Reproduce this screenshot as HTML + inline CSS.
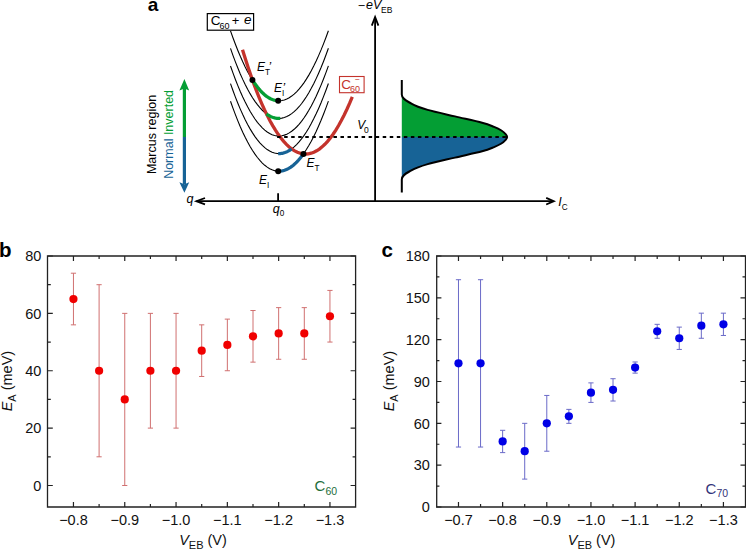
<!DOCTYPE html>
<html><head><meta charset="utf-8"><style>
html,body{margin:0;padding:0;background:#fff;}
svg{display:block;}
text{font-family:"Liberation Sans",sans-serif;}
</style></head><body>
<svg width="746" height="550" viewBox="0 0 746 550">
<rect width="746" height="550" fill="#fff"/>
<path d="M47.5,256H355.6V507H47.5Z" fill="none" stroke="#222" stroke-width="1.3"/>
<path d="M47.8,485.49h5M355.6,485.49h-5M47.8,428.11h5M355.6,428.11h-5M47.8,370.74h5M355.6,370.74h-5M47.8,313.37h5M355.6,313.37h-5M47.8,256.00h5M355.6,256.00h-5M47.8,456.80h3M355.6,456.80h-3M47.8,399.43h3M355.6,399.43h-3M47.8,342.06h3M355.6,342.06h-3M47.8,284.69h3M355.6,284.69h-3M73.45,507v-5M73.45,256v5M124.75,507v-5M124.75,256v5M176.05,507v-5M176.05,256v5M227.35,507v-5M227.35,256v5M278.65,507v-5M278.65,256v5M329.95,507v-5M329.95,256v5M99.10,507v-3M99.10,256v3M150.40,507v-3M150.40,256v3M201.70,507v-3M201.70,256v3M253.00,507v-3M253.00,256v3M304.30,507v-3M304.30,256v3" stroke="#222" stroke-width="1.2" fill="none"/>
<path d="M73.45,324.85V273.21M70.85,324.85h5.2M70.85,273.21h5.2M99.10,456.80V284.69M96.50,456.80h5.2M96.50,284.69h5.2M124.75,485.49V313.37M122.15,485.49h5.2M122.15,313.37h5.2M150.40,428.11V313.37M147.80,428.11h5.2M147.80,313.37h5.2M176.05,428.11V313.37M173.45,428.11h5.2M173.45,313.37h5.2M201.70,376.48V324.85M199.10,376.48h5.2M199.10,324.85h5.2M227.35,370.74V319.11M224.75,370.74h5.2M224.75,319.11h5.2M253.00,362.14V310.50M250.40,362.14h5.2M250.40,310.50h5.2M278.65,359.27V307.63M276.05,359.27h5.2M276.05,307.63h5.2M304.30,359.27V307.63M301.70,359.27h5.2M301.70,307.63h5.2M329.95,342.06V290.42M327.35,342.06h5.2M327.35,290.42h5.2" stroke="#d07070" stroke-width="1" fill="none"/>
<circle cx="73.45" cy="299.03" r="4.1" fill="#f00000"/>
<circle cx="99.10" cy="370.74" r="4.1" fill="#f00000"/>
<circle cx="124.75" cy="399.43" r="4.1" fill="#f00000"/>
<circle cx="150.40" cy="370.74" r="4.1" fill="#f00000"/>
<circle cx="176.05" cy="370.74" r="4.1" fill="#f00000"/>
<circle cx="201.70" cy="350.66" r="4.1" fill="#f00000"/>
<circle cx="227.35" cy="344.93" r="4.1" fill="#f00000"/>
<circle cx="253.00" cy="336.32" r="4.1" fill="#f00000"/>
<circle cx="278.65" cy="333.45" r="4.1" fill="#f00000"/>
<circle cx="304.30" cy="333.45" r="4.1" fill="#f00000"/>
<circle cx="329.95" cy="316.24" r="4.1" fill="#f00000"/>
<path d="M436.7,256H745.5V507H436.7Z" fill="none" stroke="#222" stroke-width="1.3"/>
<path d="M436.4,507.00h5M745.5,507.00h-5M436.4,465.17h5M745.5,465.17h-5M436.4,423.33h5M745.5,423.33h-5M436.4,381.50h5M745.5,381.50h-5M436.4,339.67h5M745.5,339.67h-5M436.4,297.83h5M745.5,297.83h-5M436.4,256.00h5M745.5,256.00h-5M436.4,486.08h3M745.5,486.08h-3M436.4,444.25h3M745.5,444.25h-3M436.4,402.42h3M745.5,402.42h-3M436.4,360.58h3M745.5,360.58h-3M436.4,318.75h3M745.5,318.75h-3M436.4,276.92h3M745.5,276.92h-3M458.48,507v-5M458.48,256v5M502.64,507v-5M502.64,256v5M546.79,507v-5M546.79,256v5M590.95,507v-5M590.95,256v5M635.11,507v-5M635.11,256v5M679.26,507v-5M679.26,256v5M723.42,507v-5M723.42,256v5M480.56,507v-3M480.56,256v3M524.71,507v-3M524.71,256v3M568.87,507v-3M568.87,256v3M613.03,507v-3M613.03,256v3M657.19,507v-3M657.19,256v3M701.34,507v-3M701.34,256v3" stroke="#222" stroke-width="1.2" fill="none"/>
<path d="M458.48,447.04V279.71M455.88,447.04h5.2M455.88,279.71h5.2M480.56,447.04V279.71M477.96,447.04h5.2M477.96,279.71h5.2M502.64,452.62V430.31M500.04,452.62h5.2M500.04,430.31h5.2M524.71,479.11V423.33M522.11,479.11h5.2M522.11,423.33h5.2M546.79,451.22V395.44M544.19,451.22h5.2M544.19,395.44h5.2M568.87,423.33V409.39M566.27,423.33h5.2M566.27,409.39h5.2M590.95,402.42V382.89M588.35,402.42h5.2M588.35,382.89h5.2M613.03,401.02V378.71M610.43,401.02h5.2M610.43,378.71h5.2M635.11,373.13V361.98M632.51,373.13h5.2M632.51,361.98h5.2M657.19,338.27V324.33M654.59,338.27h5.2M654.59,324.33h5.2M679.26,349.43V327.12M676.66,349.43h5.2M676.66,327.12h5.2M701.34,338.27V313.17M698.74,338.27h5.2M698.74,313.17h5.2M723.42,335.48V313.17M720.82,335.48h5.2M720.82,313.17h5.2" stroke="#6a6ac8" stroke-width="1" fill="none"/>
<circle cx="458.48" cy="363.37" r="4.1" fill="#0000e6"/>
<circle cx="480.56" cy="363.37" r="4.1" fill="#0000e6"/>
<circle cx="502.64" cy="441.46" r="4.1" fill="#0000e6"/>
<circle cx="524.71" cy="451.22" r="4.1" fill="#0000e6"/>
<circle cx="546.79" cy="423.33" r="4.1" fill="#0000e6"/>
<circle cx="568.87" cy="416.36" r="4.1" fill="#0000e6"/>
<circle cx="590.95" cy="392.66" r="4.1" fill="#0000e6"/>
<circle cx="613.03" cy="389.87" r="4.1" fill="#0000e6"/>
<circle cx="635.11" cy="367.56" r="4.1" fill="#0000e6"/>
<circle cx="657.19" cy="331.30" r="4.1" fill="#0000e6"/>
<circle cx="679.26" cy="338.27" r="4.1" fill="#0000e6"/>
<circle cx="701.34" cy="325.72" r="4.1" fill="#0000e6"/>
<circle cx="723.42" cy="324.33" r="4.1" fill="#0000e6"/>
<path d="M401.80,94.60C401.80,99.27 407.08,101.05 411.40,103.60C415.72,106.15 420.43,107.77 427.70,109.90C434.97,112.03 445.93,114.27 455.00,116.40C464.07,118.53 475.58,120.95 482.10,122.70C488.62,124.45 490.88,125.60 494.10,126.90C497.32,128.20 499.48,129.30 501.40,130.50C503.32,131.70 504.65,133.02 505.60,134.10C506.55,135.18 507.10,135.67 507.10,137.00L401.8,137Z" fill="#049e34"/>
<path d="M401.80,179.40C401.80,174.73 407.08,172.95 411.40,170.40C415.72,167.85 420.43,166.23 427.70,164.10C434.97,161.97 445.93,159.73 455.00,157.60C464.07,155.47 475.58,153.05 482.10,151.30C488.62,149.55 490.88,148.40 494.10,147.10C497.32,145.80 499.48,144.70 501.40,143.50C503.32,142.30 504.65,140.98 505.60,139.90C506.55,138.82 507.10,138.33 507.10,137.00L401.8,137Z" fill="#176396"/>
<path d="M401.8,80V94.6C401.80,99.27 407.08,101.05 411.40,103.60C415.72,106.15 420.43,107.77 427.70,109.90C434.97,112.03 445.93,114.27 455.00,116.40C464.07,118.53 475.58,120.95 482.10,122.70C488.62,124.45 490.88,125.60 494.10,126.90C497.32,128.20 499.48,129.30 501.40,130.50C503.32,131.70 504.65,133.02 505.60,134.10C506.55,135.18 507.10,135.67 507.10,137.00" fill="none" stroke="#000" stroke-width="2"/>
<path d="M401.8,192.4V179.4C401.80,174.73 407.08,172.95 411.40,170.40C415.72,167.85 420.43,166.23 427.70,164.10C434.97,161.97 445.93,159.73 455.00,157.60C464.07,155.47 475.58,153.05 482.10,151.30C488.62,149.55 490.88,148.40 494.10,147.10C497.32,145.80 499.48,144.70 501.40,143.50C503.32,142.30 504.65,140.98 505.60,139.90C506.55,138.82 507.10,138.33 507.10,137.00" fill="none" stroke="#000" stroke-width="2"/>
<path d="M230.50,30.81L232.95,37.73L235.40,44.28L237.84,50.47L240.29,56.31L242.74,61.78L245.19,66.90L247.63,71.66L250.08,76.05L252.53,80.09L254.97,83.77L257.42,87.09L259.87,90.05L262.32,92.65L264.76,94.89L267.21,96.77L269.66,98.29L272.11,99.46L274.56,100.26L277.00,100.70L279.45,100.79L281.90,100.53L284.34,99.92L286.79,98.98L289.24,97.69L291.69,96.07L294.13,94.10L296.58,91.79L299.03,89.14L301.48,86.14L303.92,82.81L306.37,79.13L308.82,75.12L311.27,70.76L313.71,66.06L316.16,61.02L318.61,55.63L321.06,49.91L323.50,43.84L325.95,37.43L328.40,30.69" fill="none" stroke="#000" stroke-width="1.1"/>
<path d="M230.50,48.41L232.95,55.33L235.40,61.88L237.84,68.07L240.29,73.91L242.74,79.38L245.19,84.50L247.63,89.26L250.08,93.65L252.53,97.69L254.97,101.37L257.42,104.69L259.87,107.65L262.32,110.25L264.76,112.49L267.21,114.37L269.66,115.89L272.11,117.06L274.56,117.86L277.00,118.30L279.45,118.39L281.90,118.13L284.34,117.52L286.79,116.58L289.24,115.29L291.69,113.67L294.13,111.70L296.58,109.39L299.03,106.74L301.48,103.74L303.92,100.41L306.37,96.73L308.82,92.72L311.27,88.36L313.71,83.66L316.16,78.62L318.61,73.23L321.06,67.51L323.50,61.44L325.95,55.03L328.40,48.29" fill="none" stroke="#000" stroke-width="1.1"/>
<path d="M230.50,66.01L232.95,72.93L235.40,79.48L237.84,85.67L240.29,91.51L242.74,96.98L245.19,102.10L247.63,106.86L250.08,111.25L252.53,115.29L254.97,118.97L257.42,122.29L259.87,125.25L262.32,127.85L264.76,130.09L267.21,131.97L269.66,133.49L272.11,134.66L274.56,135.46L277.00,135.90L279.45,135.99L281.90,135.73L284.34,135.12L286.79,134.18L289.24,132.89L291.69,131.27L294.13,129.30L296.58,126.99L299.03,124.34L301.48,121.34L303.92,118.01L306.37,114.33L308.82,110.32L311.27,105.96L313.71,101.26L316.16,96.22L318.61,90.83L321.06,85.11L323.50,79.04L325.95,72.63L328.40,65.89" fill="none" stroke="#000" stroke-width="1.1"/>
<path d="M230.50,83.61L232.95,90.53L235.40,97.08L237.84,103.27L240.29,109.11L242.74,114.58L245.19,119.70L247.63,124.46L250.08,128.85L252.53,132.89L254.97,136.57L257.42,139.89L259.87,142.85L262.32,145.45L264.76,147.69L267.21,149.57L269.66,151.09L272.11,152.26L274.56,153.06L277.00,153.50L279.45,153.59L281.90,153.33L284.34,152.72L286.79,151.78L289.24,150.49L291.69,148.87L294.13,146.90L296.58,144.59L299.03,141.94L301.48,138.94L303.92,135.61L306.37,131.93L308.82,127.92L311.27,123.56L313.71,118.86L316.16,113.82L318.61,108.43L321.06,102.71L323.50,96.64L325.95,90.23L328.40,83.49" fill="none" stroke="#000" stroke-width="1.1"/>
<path d="M230.50,101.21L232.95,108.13L235.40,114.68L237.84,120.87L240.29,126.71L242.74,132.18L245.19,137.30L247.63,142.06L250.08,146.45L252.53,150.49L254.97,154.17L257.42,157.49L259.87,160.45L262.32,163.05L264.76,165.29L267.21,167.17L269.66,168.69L272.11,169.86L274.56,170.66L277.00,171.10L279.45,171.19L281.90,170.93L284.34,170.32L286.79,169.38L289.24,168.09L291.69,166.47L294.13,164.50L296.58,162.19L299.03,159.54L301.48,156.54L303.92,153.21L306.37,149.53L308.82,145.52L311.27,141.16L313.71,136.46L316.16,131.42L318.61,126.03L321.06,120.31L323.50,114.24L325.95,107.83L328.40,101.09" fill="none" stroke="#000" stroke-width="1.1"/>
<path d="M242.50,49.68L245.25,58.56L247.99,67.04L250.74,75.13L253.48,82.83L256.23,90.13L258.97,97.03L261.72,103.54L264.46,109.66L267.20,115.38L269.95,120.70L272.69,125.63L275.44,130.17L278.19,134.31L280.93,138.05L283.68,141.41L286.42,144.36L289.17,146.92L291.91,149.09L294.66,150.86L297.40,152.24L300.14,153.22L302.89,153.81L305.63,154.00L308.38,153.80L311.12,153.20L313.87,152.21L316.62,150.82L319.36,149.04L322.11,146.86L324.85,144.29L327.60,141.32L330.34,137.96L333.09,134.21L335.83,130.06L338.58,125.51L341.32,120.57L344.06,115.24L346.81,109.51L349.56,103.38L352.30,96.86" fill="none" stroke="#c4332c" stroke-width="3.3"/>
<path d="M252.44,79.95L253.72,81.94L255.01,83.82L256.30,85.61L257.59,87.30L258.88,88.89L260.17,90.38L261.45,91.77L262.74,93.06L264.03,94.26L265.32,95.35L266.61,96.34L267.89,97.23L269.18,98.03L270.47,98.72L271.76,99.31L273.05,99.81L274.34,100.20L275.62,100.50L276.91,100.69L278.20,100.79" fill="none" stroke="#049e34" stroke-width="3.3"/>
<path d="M266.44,113.81L267.12,114.31L267.81,114.78L268.50,115.22L269.19,115.63L269.88,116.01L270.57,116.37L271.25,116.69L271.94,116.99L272.63,117.26L273.32,117.50L274.01,117.71L274.69,117.89L275.38,118.05L276.07,118.18L276.76,118.28L277.45,118.35L278.14,118.39L278.82,118.40L279.51,118.39L280.20,118.34" fill="none" stroke="#049e34" stroke-width="3.3"/>
<path d="M278.20,153.59L278.87,153.60L279.54,153.58L280.22,153.54L280.89,153.48L281.56,153.38L282.23,153.26L282.91,153.12L283.58,152.95L284.25,152.75L284.92,152.53L285.59,152.28L286.27,152.01L286.94,151.71L287.61,151.39L288.28,151.04L288.96,150.66L289.63,150.26L290.30,149.83L290.97,149.38L291.64,148.90" fill="none" stroke="#176396" stroke-width="3.3"/>
<path d="M278.20,171.19L279.46,171.19L280.73,171.09L281.99,170.91L283.25,170.64L284.51,170.27L285.78,169.81L287.04,169.27L288.30,168.63L289.56,167.90L290.83,167.08L292.09,166.17L293.35,165.17L294.61,164.07L295.88,162.89L297.14,161.61L298.40,160.25L299.66,158.79L300.93,157.25L302.19,155.61L303.45,153.88" fill="none" stroke="#176396" stroke-width="3.3"/>
<circle cx="252.44" cy="79.95" r="3.0"/>
<circle cx="278.2" cy="100.79" r="3.0"/>
<circle cx="278.2" cy="171.19" r="3.0"/>
<circle cx="303.45" cy="153.88" r="3.0"/>
<line x1="277.11" y1="137" x2="507" y2="137" stroke="#000" stroke-width="2" stroke-dasharray="3.5 3.54"/>
<path d="M196.5,201.2H553M375.1,201.2V18M278.1,201.2V193.2" stroke="#000" stroke-width="1.8" fill="none"/>
<path d="M546.2,197.9 L553.8,201.2 L546.2,204.5M205,198 L196.4,201.2 L205,204.4M371.8,25.6 L375.1,17 L378.4,25.6" fill="none" stroke="#000" stroke-width="1.8"/>
<line x1="184.4" y1="88" x2="184.4" y2="137" stroke="#049e34" stroke-width="3.2"/>
<line x1="184.4" y1="137" x2="184.4" y2="184" stroke="#176396" stroke-width="3.2"/>
<path d="M179.4,90.6 L184.4,79.1 L189.2,90.6 L184.4,88.6 Z" fill="#049e34"/>
<path d="M179.4,182.2 L184.4,192.7 L189.2,182.2 L184.4,184.2 Z" fill="#176396"/>
<rect x="207.3" y="13.6" width="46.3" height="16.6" fill="#fff" stroke="#000" stroke-width="1.2"/>
<rect x="339.5" y="76.5" width="24.6" height="16.2" fill="#fff" stroke="#c4332c" stroke-width="1.1"/>
<text x="41.30" y="490.69" text-anchor="end" font-size="14.5" fill="#111">0</text>
<text x="41.30" y="433.31" text-anchor="end" font-size="14.5" fill="#111">20</text>
<text x="41.30" y="375.94" text-anchor="end" font-size="14.5" fill="#111">40</text>
<text x="41.30" y="318.57" text-anchor="end" font-size="14.5" fill="#111">60</text>
<text x="41.30" y="261.20" text-anchor="end" font-size="14.5" fill="#111">80</text>
<text x="73.45" y="524.50" text-anchor="middle" font-size="14.5" fill="#111">−0.8</text>
<text x="124.75" y="524.50" text-anchor="middle" font-size="14.5" fill="#111">−0.9</text>
<text x="176.05" y="524.50" text-anchor="middle" font-size="14.5" fill="#111">−1.0</text>
<text x="227.35" y="524.50" text-anchor="middle" font-size="14.5" fill="#111">−1.1</text>
<text x="278.65" y="524.50" text-anchor="middle" font-size="14.5" fill="#111">−1.2</text>
<text x="329.95" y="524.50" text-anchor="middle" font-size="14.5" fill="#111">−1.3</text>
<text x="429.90" y="512.20" text-anchor="end" font-size="14.5" fill="#111">0</text>
<text x="429.90" y="470.37" text-anchor="end" font-size="14.5" fill="#111">30</text>
<text x="429.90" y="428.53" text-anchor="end" font-size="14.5" fill="#111">60</text>
<text x="429.90" y="386.70" text-anchor="end" font-size="14.5" fill="#111">90</text>
<text x="429.90" y="344.87" text-anchor="end" font-size="14.5" fill="#111">120</text>
<text x="429.90" y="303.03" text-anchor="end" font-size="14.5" fill="#111">150</text>
<text x="429.90" y="261.20" text-anchor="end" font-size="14.5" fill="#111">180</text>
<text x="458.48" y="524.50" text-anchor="middle" font-size="14.5" fill="#111">−0.7</text>
<text x="502.64" y="524.50" text-anchor="middle" font-size="14.5" fill="#111">−0.8</text>
<text x="546.79" y="524.50" text-anchor="middle" font-size="14.5" fill="#111">−0.9</text>
<text x="590.95" y="524.50" text-anchor="middle" font-size="14.5" fill="#111">−1.0</text>
<text x="635.11" y="524.50" text-anchor="middle" font-size="14.5" fill="#111">−1.1</text>
<text x="679.26" y="524.50" text-anchor="middle" font-size="14.5" fill="#111">−1.2</text>
<text x="723.42" y="524.50" text-anchor="middle" font-size="14.5" fill="#111">−1.3</text>
<text transform="translate(12.10,381.10) rotate(-90)" text-anchor="middle" font-size="14.5" fill="#111"><tspan font-style="italic">E</tspan><tspan font-size="11" dy="3.5">A</tspan><tspan dy="-3.5"> (meV)</tspan></text>
<text transform="translate(394.30,381.10) rotate(-90)" text-anchor="middle" font-size="14.5" fill="#111"><tspan font-style="italic">E</tspan><tspan font-size="11" dy="3.5">A</tspan><tspan dy="-3.5"> (meV)</tspan></text>
<text x="203.00" y="545.10" text-anchor="middle" font-size="14.5" fill="#111"><tspan font-style="italic">V</tspan><tspan font-size="11" dy="4">EB</tspan><tspan dy="-4"> (V)</tspan></text>
<text x="591.60" y="545.10" text-anchor="middle" font-size="14.5" fill="#111"><tspan font-style="italic">V</tspan><tspan font-size="11" dy="4">EB</tspan><tspan dy="-4"> (V)</tspan></text>
<text x="314.60" y="491.40" font-size="15" fill="#1e6e3c">C<tspan font-size="10.5" dy="3.5">60</tspan></text>
<text x="705.60" y="493.60" font-size="15" fill="#33337a">C<tspan font-size="10.5" dy="3.5">70</tspan></text>
<text x="-1.00" y="256.80" font-size="20.5" font-weight="bold">b</text>
<text x="381.50" y="257.00" font-size="20.5" font-weight="bold">c</text>
<text x="147.80" y="11.00" font-size="19" font-weight="bold">a</text>
<text transform="translate(156.20,134.50) rotate(-90)" text-anchor="middle" font-size="12.5" fill="#000">Marcus region</text>
<text transform="translate(173.10,134.40) rotate(-90)" text-anchor="middle" font-size="12.5"><tspan fill="#176396">Normal</tspan><tspan fill="#049e34"> Inverted</tspan></text>
<text x="210.80" y="25.00" font-size="13.5">C<tspan font-size="9" dx="-1" dy="3.8">60</tspan></text>
<text x="231.70" y="24.90" font-size="13">+</text>
<text x="244.05" y="24.40" font-size="13.5" font-style="italic">e</text>
<text x="341.30" y="88.70" font-size="13.5" fill="#c4332c">C<tspan font-size="9" dx="-1" dy="3.6">60</tspan></text>
<text x="354.90" y="81.70" font-size="8.5" fill="#c4332c">−</text>
<text x="257.10" y="71.30" font-size="12" fill="#000"><tspan font-style="italic">E</tspan><tspan font-size="8.2" dy="4">T</tspan><tspan dy="-4" dx="-2" font-size="13" font-style="italic">’</tspan></text>
<text x="274.00" y="91.50" font-size="12" fill="#000"><tspan font-style="italic">E</tspan><tspan font-size="8.2" dy="4">I</tspan><tspan dy="-4" dx="-2" font-size="13" font-style="italic">’</tspan></text>
<text x="306.40" y="167.10" font-size="12" fill="#000"><tspan font-style="italic">E</tspan><tspan font-size="8.2" dy="4">T</tspan></text>
<text x="259.00" y="184.30" font-size="12" fill="#000"><tspan font-style="italic">E</tspan><tspan font-size="8.2" dy="4">I</tspan></text>
<text x="357.20" y="129.00" font-size="12" font-style="italic">V<tspan font-style="normal" font-size="8.5" dx="-1.2" dy="4">0</tspan></text>
<text x="186.60" y="202.60" font-size="12.5" font-style="italic">q</text>
<text x="272.80" y="213.20" font-size="12.5" font-style="italic">q<tspan font-style="normal" font-size="8.2" dy="3">0</tspan></text>
<text x="558.30" y="205.50" font-size="12.5" font-style="italic">I<tspan font-style="normal" font-size="8.2" dy="4">C</tspan></text>
<text x="357.85" y="10.00" font-size="12.5">−</text>
<text x="366.00" y="8.50" font-size="12.5" font-style="italic">eV<tspan font-style="normal" font-size="8.5" dx="-0.3" dy="4">EB</tspan></text>
</svg></body></html>
